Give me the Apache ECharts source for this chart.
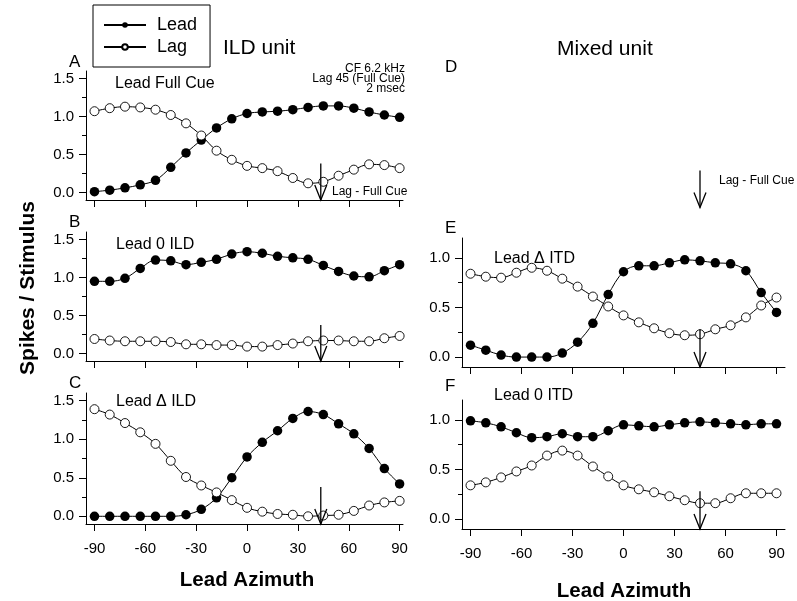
<!DOCTYPE html>
<html>
<head>
<meta charset="utf-8">
<script src="https://cdn.jsdelivr.net/npm/echarts@6/dist/echarts.min.js"></script>
<style>
  html, body { margin: 0; padding: 0; background: #fff; }
  #chart { width: 797px; height: 601px; }
</style>
</head>
<body>
<div id="chart"></div>
<script>
  // lead azimuth (deg)
  var azimuth = [-90, -81, -72, -63, -54, -45, -36, -27, -18, -9, 0, 9, 18, 27, 36, 45, 54, 63, 72, 81, 90];
  var xTicks = [-90, -60, -30, 0, 30, 60, 90];
  var yTicksLeft = [0, 0.5, 1.0, 1.5];
  var yMinorLeft = [0.25, 0.75, 1.25];
  var yTicksRight = [0, 0.5, 1.0];
  var yMinorRight = [0.25, 0.75];

  // ILD unit
  var leadA = [0.01, 0.03, 0.06, 0.10, 0.16, 0.33, 0.52, 0.69, 0.85, 0.97, 1.04, 1.06, 1.07, 1.09, 1.12, 1.14, 1.14, 1.11, 1.06, 1.02, 0.99];
  var lagA  = [1.07, 1.11, 1.13, 1.12, 1.09, 1.02, 0.91, 0.75, 0.55, 0.43, 0.35, 0.32, 0.28, 0.19, 0.12, 0.14, 0.22, 0.30, 0.37, 0.36, 0.32];
  var leadB = [0.95, 0.95, 0.99, 1.12, 1.23, 1.22, 1.17, 1.20, 1.24, 1.31, 1.34, 1.32, 1.28, 1.26, 1.24, 1.16, 1.08, 1.02, 1.01, 1.09, 1.17];
  var lagB  = [0.19, 0.17, 0.16, 0.16, 0.16, 0.15, 0.12, 0.12, 0.11, 0.11, 0.09, 0.09, 0.11, 0.13, 0.16, 0.17, 0.17, 0.16, 0.16, 0.20, 0.23];
  var leadC = [0, 0, 0, 0, 0, 0, 0.02, 0.09, 0.24, 0.50, 0.77, 0.96, 1.11, 1.27, 1.36, 1.32, 1.20, 1.07, 0.88, 0.62, 0.42];
  var lagC  = [1.39, 1.32, 1.21, 1.09, 0.94, 0.72, 0.51, 0.40, 0.31, 0.21, 0.11, 0.06, 0.03, 0.02, 0.00, 0.01, 0.02, 0.07, 0.14, 0.18, 0.20];
  // Mixed unit
  var leadE = [0.12, 0.07, 0.02, 0.00, 0.00, 0.00, 0.04, 0.15, 0.34, 0.63, 0.86, 0.92, 0.92, 0.95, 0.98, 0.97, 0.95, 0.94, 0.87, 0.65, 0.45];
  var lagE  = [0.84, 0.81, 0.80, 0.85, 0.90, 0.87, 0.79, 0.71, 0.61, 0.51, 0.42, 0.35, 0.29, 0.24, 0.22, 0.23, 0.28, 0.32, 0.40, 0.52, 0.60];
  var leadF = [0.99, 0.97, 0.93, 0.87, 0.82, 0.83, 0.86, 0.83, 0.83, 0.89, 0.95, 0.94, 0.93, 0.95, 0.97, 0.98, 0.97, 0.96, 0.95, 0.96, 0.96];
  var lagF  = [0.34, 0.37, 0.42, 0.48, 0.54, 0.64, 0.69, 0.64, 0.53, 0.43, 0.34, 0.30, 0.27, 0.23, 0.19, 0.16, 0.16, 0.21, 0.26, 0.26, 0.26];

  // lag (full cue) position for the arrows
  var cueLeft = 43.5;
  var cueRight = 45;

  var FONT = 'Liberation Sans, Arial, sans-serif';

  function pairs(ys) {
    return azimuth.map(function (a, i) { return [a, ys[i]]; });
  }

  // grids: A, B, C (left), D (empty), E, F (right)
  var grids = [
    { left: 86, top: 71, width: 317, height: 129 },
    { left: 86, top: 232, width: 317, height: 129 },
    { left: 86, top: 393, width: 317, height: 131 },
    { left: 462, top: 160, width: 323, height: 50 },
    { left: 462, top: 238, width: 323, height: 129 },
    { left: 462, top: 400, width: 323, height: 129 }
  ];

  var xAxes = [], yAxes = [];
  grids.forEach(function (g, i) {
    var right = i >= 3;
    var hidden = i === 3;
    var labels = i === 2 || i === 5;
    xAxes.push({
      type: 'value', gridIndex: i, min: -95, max: right ? 95 : 92, show: !hidden,
      splitLine: { show: false },
      axisLine: { onZero: false, lineStyle: { color: '#000', width: 1 } },
      axisTick: { customValues: xTicks, length: 7, lineStyle: { color: '#000' } },
      axisLabel: { show: labels, customValues: xTicks, color: '#000', fontSize: 15, fontFamily: FONT, margin: 17 }
    });
    var yMax = right ? 1.2 : 1.6;
    yAxes.push({
      type: 'value', gridIndex: i, min: hidden ? 0 : -0.1, max: hidden ? 1 : yMax, show: !hidden,
      splitLine: { show: false },
      axisLine: { onZero: false, lineStyle: { color: '#000', width: 1 } },
      axisTick: { customValues: right ? yTicksRight : yTicksLeft, length: 7, lineStyle: { color: '#000' } },
      axisLabel: {
        customValues: right ? yTicksRight : yTicksLeft, color: '#000', fontSize: 15, fontFamily: FONT, margin: 12,
        formatter: function (v) { return v.toFixed(1); }
      }
    });
  });
  // minor ticks on overlay axes
  [0, 1, 2, 4, 5].forEach(function (i) {
    var right = i >= 3;
    yAxes.push({
      type: 'value', gridIndex: i, position: 'left', min: -0.1, max: right ? 1.2 : 1.6,
      splitLine: { show: false },
      axisLine: { show: false, onZero: false },
      axisTick: { customValues: right ? yMinorRight : yMinorLeft, length: 4, lineStyle: { color: '#000' } },
      axisLabel: { show: false }
    });
  });

  var panels = [
    [leadA, lagA], [leadB, lagB], [leadC, lagC], null, [leadE, lagE], [leadF, lagF]
  ];

  var series = [];
  panels.forEach(function (p, i) {
    if (!p) return;
    series.push({
      name: 'Lead', type: 'line', xAxisIndex: i, yAxisIndex: i, data: pairs(p[0]),
      smooth: 0.35, symbol: 'circle', symbolSize: 9.5,
      itemStyle: { color: '#000', borderWidth: 0 }, lineStyle: { color: '#000', width: 1 }
    });
    series.push({
      name: 'Lag', type: 'line', xAxisIndex: i, yAxisIndex: i, data: pairs(p[1]),
      smooth: 0.35, symbol: 'circle', symbolSize: 9,
      itemStyle: { color: '#fff', borderColor: '#000', borderWidth: 0.9 }, lineStyle: { color: '#000', width: 1 }
    });
  });

  function renderArrow(params, api) {
    var top = api.coord([api.value(0), api.value(1)]);
    var bot = api.coord([api.value(0), api.value(2)]);
    return {
      type: 'group',
      children: [
        { type: 'line', shape: { x1: top[0], y1: top[1], x2: bot[0], y2: bot[1] }, style: { stroke: '#000', lineWidth: 1.3 } },
        { type: 'polyline', shape: { points: [[bot[0] - 6, bot[1] - 15], [bot[0], bot[1]], [bot[0] + 6, bot[1] - 15]] },
          style: { stroke: '#000', fill: null, lineWidth: 1.3 } }
      ]
    };
  }
  var arrows = [
    [cueLeft, 0.38, -0.1], [cueLeft, 0.375, -0.1], [cueLeft, 0.38, -0.1],
    [cueRight, 0.79, 0.05], [cueRight, 0.28, -0.1], [cueRight, 0.28, -0.1]
  ];
  arrows.forEach(function (a, i) {
    series.push({
      type: 'custom', xAxisIndex: i, yAxisIndex: i, renderItem: renderArrow, clip: false, z: 5,
      encode: { x: 0, y: 1 }, data: [a], silent: true
    });
  });

  function txt(x, y, s, size, opts) {
    opts = opts || {};
    return {
      type: 'text', x: x, y: y, rotation: opts.rotation || 0, z: 10,
      style: {
        text: s, fill: '#000', font: (opts.bold ? 'bold ' : '') + size + 'px ' + FONT,
        textAlign: opts.align || 'left', textVerticalAlign: 'middle'
      }
    };
  }

  var chart = echarts.init(document.getElementById('chart'), null, { renderer: 'canvas' });
  chart.setOption({
    animation: false,
    backgroundColor: '#fff',
    textStyle: { fontFamily: FONT },
    legend: {
      data: ['Lead', 'Lag'], orient: 'vertical', left: 93, top: 5,
      borderColor: '#000', borderWidth: 1, padding: [11, 13, 11, 10], itemGap: 4,
      itemWidth: 42, itemHeight: 7,
      textStyle: { fontSize: 18, color: '#000', fontFamily: FONT, padding: [0, 0, 0, 6] }
    },
    grid: grids,
    xAxis: xAxes,
    yAxis: yAxes,
    series: series,
    graphic: [
      txt(223, 48, 'ILD unit', 21),
      txt(557, 49, 'Mixed unit', 21),
      txt(69, 62, 'A', 17),
      txt(69, 222, 'B', 17),
      txt(69, 383, 'C', 17),
      txt(445, 67, 'D', 17),
      txt(445, 228, 'E', 17),
      txt(445, 386, 'F', 17),
      txt(405, 69, 'CF 6.2 kHz', 12, { align: 'right' }),
      txt(405, 79, 'Lag 45 (Full Cue)', 12, { align: 'right' }),
      txt(405, 89, '2 msec', 12, { align: 'right' }),
      txt(115, 84, 'Lead Full Cue', 16),
      txt(116, 245, 'Lead 0 ILD', 16),
      txt(116, 402, 'Lead \u0394 ILD', 16),
      txt(494, 259, 'Lead \u0394 ITD', 16),
      txt(494, 396, 'Lead 0 ITD', 16),
      txt(332, 192, 'Lag - Full Cue', 12),
      txt(719, 181, 'Lag - Full Cue', 12),
      txt(28, 288, 'Spikes / Stimulus', 21, { bold: true, align: 'center', rotation: Math.PI / 2 }),
      txt(247, 580, 'Lead Azimuth', 20.5, { bold: true, align: 'center' }),
      txt(624, 591, 'Lead Azimuth', 20.5, { bold: true, align: 'center' })
    ]
  });
</script>
</body>
</html>
